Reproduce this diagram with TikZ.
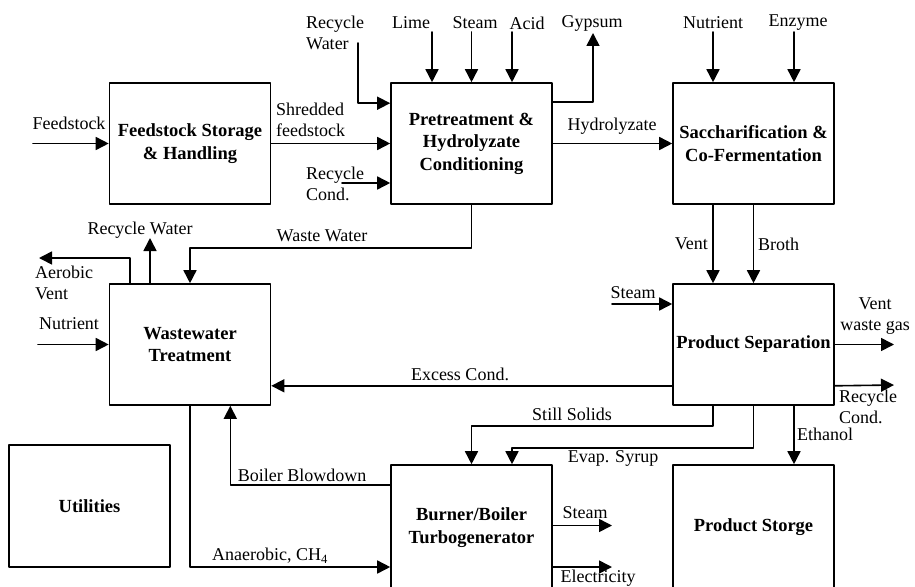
\documentclass[tikz,border=0pt]{standalone}
\usepackage{fontspec}
\setmainfont{Liberation Serif}
\usepackage{tikz}
\usetikzlibrary{arrows}
\usetikzlibrary{arrows.meta,calc}

\begin{document}
\begin{tikzpicture}[line cap=round,line join=round,>={Triangle[length=13pt,width=13pt]},x=1pt,y=-1pt,
        unit/.style={draw,line width=1.6pt,minimum width=161pt,minimum height=121pt,inner sep=0pt,align=center,font=\fontsize{18.5}{22.5}\selectfont\bfseries},
        lbl/.style={inner sep=0pt,align=left,font=\fontsize{18}{21.5}\selectfont},
        flow/.style={line width=1.6pt,->}]
                \useasboundingbox (0,0) rectangle (915,586);
                \clip (0,0) rectangle (915,586);
                \node[unit] (feed) at (190,143.5) {Feedstock Storage\\\& Handling};
                \node[unit] (pretr) at (471.5,143.5) {Pretreatment \&\\Hydrolyzate\\Conditioning};
                \node[unit] (ssf) at (753.5,143.5) {Saccharification \&\\Co-Fermentation};
                \node[unit] (wwt) at (190,344.5) {Wastewater\\Treatment};
                \node[unit] (sep) at (753.5,344.5) {Product Separation};
                \node[unit,minimum height=122pt] (util) at (89.5,506) {Utilities};
                \node[unit,minimum height=125pt] (boiler) at (471.5,527.5) {Burner/Boiler\\Turbogenerator};
                \node[unit,minimum height=125pt] (store) at (753.5,527.5) {Product Storge};
                \coordinate (feedIn) at (33,143.5);
                \coordinate (rwIn) at (358,43);
                \coordinate (rcIn) at (342,183);
                \coordinate (limeIn) at (432,32);
                \coordinate (steamIn) at (471.5,32);
                \coordinate (acidIn) at (512,32);
                \coordinate (gypOut) at (593,33);
                \coordinate (nutIn) at (713,32);
                \coordinate (enzIn) at (794,32);
                \coordinate (rwOut) at (150,238);
                \coordinate (aerOut) at (39,258);
                \coordinate (wwNutIn) at (38,344.5);
                \coordinate (sepSteamIn) at (612,304);
                \coordinate (ventOut) at (894,344.5);
                \coordinate (rcOut) at (894,385);
                \coordinate (bbSteamOut) at (612,525.5);
                \coordinate (elecOut) at (612,567);
                \draw [flow] (feedIn) -- (feed.west);
                \draw [flow] (feed.east) -- (pretr.west);
                \draw [flow] (rwIn) |- ([yshift=-21pt]pretr.north west);
                \draw [flow] (rcIn) -- (rcIn -| pretr.west);
                \draw [flow] (limeIn) -- (limeIn |- pretr.north);
                \draw [flow] (steamIn) -- (pretr.north);
                \draw [flow] (acidIn) -- (acidIn |- pretr.north);
                \draw [flow] ([yshift=-20pt]pretr.north east) -| (gypOut);
                \draw [flow] (pretr.east) -- (ssf.west);
                \draw [flow] (nutIn) -- (nutIn |- ssf.north);
                \draw [flow] (enzIn) -- (enzIn |- ssf.north);
                \draw [flow] ([xshift=-40.5pt]ssf.south) -- ([xshift=-40.5pt]sep.north);
                \draw [flow] (ssf.south) -- (sep.north);
                \draw [flow] (pretr.south) -- ++(0,43) -| (wwt.north);
                \draw [flow] (wwt.north -| rwOut) -- (rwOut);
                \draw [flow] ([xshift=21pt]wwt.north west) |- (aerOut);
                \draw [flow] (wwNutIn) -- (wwt.west);
                \draw [flow] (sepSteamIn) -- (sepSteamIn -| sep.west);
                \draw [flow] (sep.east) -- (ventOut);
                \draw [flow] ([yshift=20pt]sep.south east) -- (rcOut);
                \draw [flow] ([yshift=20pt]sep.south west) -- ([yshift=20pt]wwt.south east);
                \draw [flow] ([xshift=-40.5pt]sep.south) -- ++(0,20) -| (boiler.north);
                \draw [flow] (sep.south) -- ++(0,42) -| ([xshift=40.5pt]boiler.north);
                \draw [flow] ([xshift=40.5pt]sep.south) -- ([xshift=40.5pt]store.north);
                \draw [flow] ([yshift=-21pt]boiler.north west) -| ([xshift=-41pt]wwt.south east);
                \draw [flow] (wwt.south) |- (boiler.west |- elecOut);
                \draw [flow] (boiler.east |- bbSteamOut) -- (bbSteamOut);
                \draw [flow] (boiler.east |- elecOut) -- (elecOut);
                \node[lbl] (lFeed) at (69,123) {Feedstock};
                \node[lbl,anchor=west] (lShred) at (276,120) {Shredded\\feedstock};
                \node[lbl,anchor=west] (lRw) at (306,33) {Recycle\\Water};
                \node[lbl,anchor=west] (lRc) at (306,184) {Recycle\\Cond.};
                \node[lbl] (lLime) at (411,23) {Lime};
                \node[lbl] (lSteam) at (475,23) {Steam};
                \node[lbl] (lAcid) at (527,23) {Acid};
                \node[lbl] (lGyp) at (592,23) {Gypsum};
                \node[lbl] (lHydro) at (612,126) {Hydrolyzate};
                \node[lbl] (lNut) at (713,23) {Nutrient};
                \node[lbl] (lEnz) at (798,23) {Enzyme};
                \node[lbl,anchor=east] (lVent) at (708,244) {Vent};
                \node[lbl,anchor=west] (lBroth) at (758,244) {Broth};
                \node[lbl] (lWaste) at (322,236) {Waste Water};
                \node[lbl] (lRwOut) at (140,230) {Recycle Water};
                \node[lbl,anchor=west] (lAer) at (35,283) {Aerobic\\Vent};
                \node[lbl] (lWwNut) at (69,324) {Nutrient};
                \node[lbl] (lExcess) at (460,374) {Excess Cond.};
                \node[lbl] (lBlow) at (302,475) {Boiler Blowdown};
                \node[lbl] (lAnaer) at (270,556) {Anaerobic, CH\textsubscript{4}};
                \node[lbl] (lSolids) at (572,414) {Still Solids};
                \node[lbl] (lSyrup) at (613,458) {Evap. Syrup};
                \node[lbl,anchor=west] (lEth) at (797,434) {Ethanol};
                \node[lbl] (lSepSteam) at (633,293) {Steam};
                \node[lbl,align=center] (lVentOut) at (875,316) {Vent\\waste gas};
                \node[lbl,anchor=west] (lRcOut) at (839,407) {Recycle\\Cond.};
                \node[lbl] (lBbSteam) at (585,513) {Steam};
                \node[lbl] (lElec) at (598,578) {Electricity};
            \end{tikzpicture}
\end{document}
